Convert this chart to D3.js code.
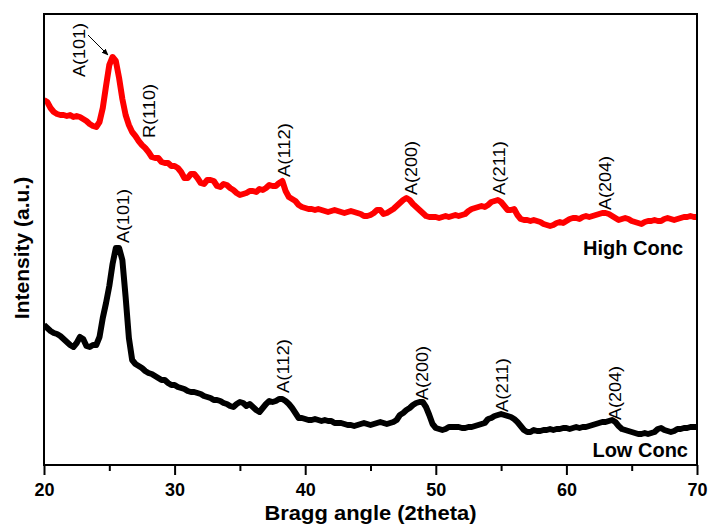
<!DOCTYPE html>
<meta charset="utf-8">
<style>
body { margin: 0; background: #fff; }
svg { font-family: "Liberation Sans", Arial, sans-serif; }
.frame { fill: none; stroke: #000; stroke-width: 2; }
.axis path { stroke: none; }
.axis line { stroke: #000; stroke-width: 2; }
.axis text { font-size: 18px; font-weight: bold; fill: #000; }
.peak { font-size: 16px; fill: #000; }
.series-name { font-size: 20px; font-weight: bold; }
.title { font-size: 21px; font-weight: bold; }
</style>
<body>
<script src="https://cdnjs.cloudflare.com/ajax/libs/d3/7.8.5/d3.min.js"></script>
<script>
// scan: 20 to 70 deg 2theta, 0.25 deg step
var thetaStart = 20, thetaStep = 0.25;

var highConc = [365,363,357,353,351,350,350,349,350,348,349,348,346,344,341,339,338,343,357,379,
  400,408,404,387,366,350,340,333,329,324,320,317,313,308,307,307,303,302,302,299,
  299,297,293,287,287,291,291,287,282,281,285,285,284,279,278,281,280,277,275,272,
  270,271,272,274,274,273,276,275,277,280,279,279,282,284,274,268,266,264,260,258,
  257,256,256,255,256,255,254,253,254,255,254,253,252,253,254,253,252,251,249,249,
  250,252,255,255,251,252,254,256,259,262,265,267,265,261,258,255,252,249,248,248,
  248,247,248,249,248,249,250,249,250,251,254,256,257,258,259,258,260,263,264,265,
  263,259,255,255,256,250,246,245,245,244,245,244,243,241,240,239,240,242,243,242,
  244,246,247,247,246,248,249,248,249,250,251,252,252,251,249,247,245,246,247,246,
  244,243,242,241,243,244,244,245,244,244,246,247,246,245,246,247,248,248,249,248,248];

var lowConc = [140,137,134,132,131,129,126,123,120,118,122,128,126,119,118,120,120,128,147,162,
  179,201,217,217,205,168,127,105,101,99,97,94,92,91,89,87,85,85,82,80,
  80,78,77,76,74,73,73,72,71,69,68,67,65,65,64,62,61,59,58,61,
  63,62,59,61,58,55,53,57,61,64,63,64,66,66,64,61,57,52,47,47,
  46,45,45,46,45,44,45,44,44,42,42,42,41,40,40,39,40,41,42,41,
  40,41,42,43,42,41,42,43,45,50,52,55,57,60,62,63,63,58,50,41,
  37,36,35,36,38,38,38,38,37,37,38,38,39,40,41,42,46,47,49,50,
  51,50,49,48,46,43,39,35,33,33,35,34,34,35,35,36,35,36,36,37,
  37,36,37,38,37,38,38,39,40,41,42,43,43,44,45,43,39,36,35,34,
  33,32,31,31,32,31,32,33,36,37,35,34,33,34,36,36,37,37,38,38,38];

var xTicks = [20, 30, 40, 50, 60, 70];
var xMinorTicks = [25, 35, 45, 55, 65];

// peak labels: [text, 2theta, intensity at foot of label]
var highPeaks = [["A(101)", 22.68, 388], ["R(110)", 28.04, 327], ["A(112)", 38.38, 288],
  ["A(200)", 48.10, 270], ["A(211)", 54.84, 270], ["A(204)", 62.96, 255]];
var lowPeaks = [["A(101)", 26.05, 222], ["A(112)", 38.30, 72], ["A(200)", 48.94, 65],
  ["A(211)", 55.07, 53], ["A(204)", 63.72, 45]];
// arrow from the A(101) label to the high conc peak
var arrowPts = [[23.37, 430], [24.9, 410]];

var seriesNames = [["High Conc", 68.93, 210], ["Low Conc", 69.31, 8]];

var margin = {top: 14, right: 11, bottom: 60, left: 44},
    width = 708 - margin.left - margin.right,
    height = 525 - margin.top - margin.bottom;

var x = d3.scaleLinear().domain([20, 70]).range([0, width]);
var y = d3.scaleLinear().domain([0, 451]).range([height, 0]);

var svg = d3.select('body').append('svg')
    .attr('width', 708)
    .attr('height', 525)
  .append('g')
    .attr('transform', 'translate(' + margin.left + ',' + margin.top + ')');

svg.append('defs').append('clipPath').attr('id', 'clip')
  .append('rect').attr('width', width).attr('height', height);

svg.append('defs').append('marker')
    .attr('id', 'arrow')
    .attr('viewBox', '0 0 10 10')
    .attr('refX', 9).attr('refY', 5)
    .attr('markerWidth', 7).attr('markerHeight', 7)
    .attr('orient', 'auto')
  .append('path')
    .attr('d', 'M0,1L10,5L0,9z')
    .attr('fill', '#000');

var line = d3.line()
    .x(function(d, i) { return x(thetaStart + i * thetaStep); })
    .y(function(d) { return y(d); });

svg.append('g').attr('clip-path', 'url(#clip)')
  .selectAll('path')
  .data([[highConc, '#ff0000'], [lowConc, '#000']])
  .enter().append('path')
    .attr('d', function(d) { return line(d[0]); })
    .attr('fill', 'none')
    .attr('stroke', function(d) { return d[1]; })
    .attr('stroke-width', 6)
    .attr('stroke-linejoin', 'round');

svg.selectAll('.peak')
  .data(highPeaks.concat(lowPeaks))
  .enter().append('text')
    .attr('class', 'peak')
    .attr('transform', function(d) { return 'translate(' + x(d[1]) + ',' + y(d[2]) + ') rotate(-90)'; })
    .attr('dy', '0.35em')
    .attr('text-anchor', 'start')
    .attr('textLength', 54)
    .attr('lengthAdjust', 'spacingAndGlyphs')
    .text(function(d) { return d[0]; });

svg.append('line')
    .attr('x1', x(arrowPts[0][0])).attr('y1', y(arrowPts[0][1]))
    .attr('x2', x(arrowPts[1][0])).attr('y2', y(arrowPts[1][1]))
    .attr('stroke', '#000')
    .attr('stroke-width', 1)
    .attr('marker-end', 'url(#arrow)');

svg.selectAll('.series-name')
  .data(seriesNames)
  .enter().append('text')
    .attr('class', 'series-name')
    .attr('x', function(d) { return x(d[1]); })
    .attr('y', function(d) { return y(d[2]); })
    .attr('text-anchor', 'end')
    .text(function(d) { return d[0]; });

svg.append('g')
    .attr('class', 'x axis')
    .attr('transform', 'translate(0,' + height + ')')
    .call(d3.axisBottom(x).tickValues(xTicks).tickSize(10).tickPadding(8));

svg.append('g')
    .attr('class', 'x axis')
    .attr('transform', 'translate(0,' + height + ')')
    .call(d3.axisBottom(x).tickValues(xMinorTicks).tickSize(6).tickFormat(''));

svg.append('rect')
    .attr('class', 'frame')
    .attr('width', width)
    .attr('height', height);

svg.append('text')
    .attr('class', 'title')
    .attr('x', width / 2)
    .attr('y', height + 55)
    .attr('text-anchor', 'middle')
    .attr('textLength', 212)
    .attr('lengthAdjust', 'spacingAndGlyphs')
    .text('Bragg angle (2theta)');

svg.append('text')
    .attr('class', 'title')
    .attr('transform', 'translate(' + (29 - margin.left) + ',' + (248 - margin.top) + ') rotate(-90)')
    .attr('text-anchor', 'middle')
    .text('Intensity (a.u.)');
</script>
</body>
